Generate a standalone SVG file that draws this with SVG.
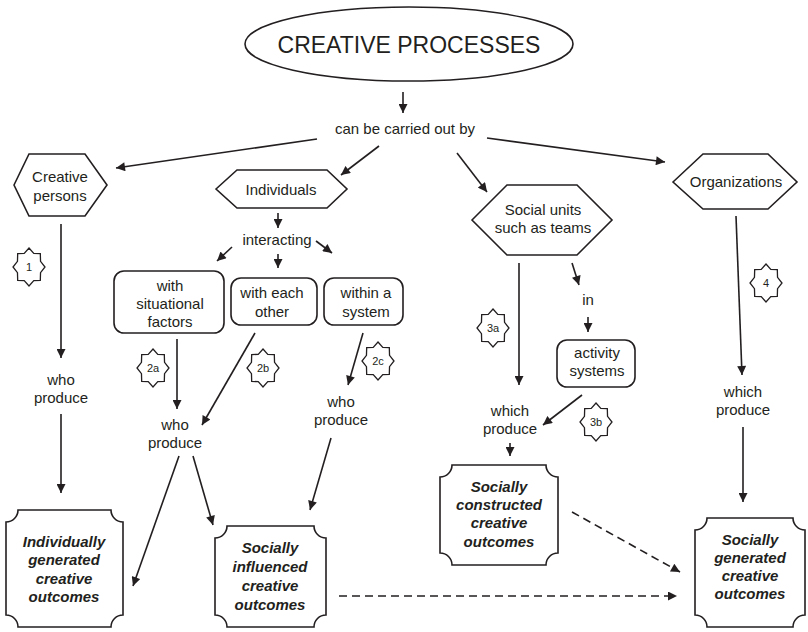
<svg xmlns="http://www.w3.org/2000/svg" xmlns:xlink="http://www.w3.org/1999/xlink" width="808" height="632" viewBox="0 0 808 632">
<style>
text{font-family:"Liberation Sans",Arial,sans-serif;fill:#231f20;text-anchor:middle}
.t{font-size:15px}
.o{font-size:15px;font-weight:bold;font-style:italic}
.s{font-size:11px}
.shape{fill:#fff;stroke:#231f20;stroke-width:1.6}
.star{fill:#fff;stroke:#231f20;stroke-width:1.3}
.c{fill:none;stroke:#231f20;stroke-width:1.6}
.d{fill:none;stroke:#231f20;stroke-width:1.6;stroke-dasharray:8 5}
</style>
<defs>
<marker id="ah" viewBox="0 0 10 10" refX="10" refY="5" markerWidth="11" markerHeight="9" markerUnits="userSpaceOnUse" orient="auto"><path d="M0,0 L10,5 L0,10 z" fill="#231f20"/></marker>
<path id="star" class="star" d="M0,-19 L4.78,-13.69 L11.31,-13.43 L11.53,-5.67 L16,0 L11.53,5.67 L11.31,13.43 L4.78,13.69 L0,19 L-4.78,13.69 L-11.31,13.43 L-11.53,5.67 L-16,0 L-11.53,-5.67 L-11.31,-13.43 L-4.78,-13.69 Z"/>
</defs>
<rect width="808" height="632" fill="#fff"/>

<g id="connectors">
<line class="c" x1="403" y1="92" x2="403" y2="113" marker-end="url(#ah)"/>
<line class="c" x1="317" y1="139" x2="116" y2="168" marker-end="url(#ah)"/>
<line class="c" x1="379" y1="146" x2="341" y2="175" marker-end="url(#ah)"/>
<line class="c" x1="457" y1="153" x2="487" y2="192" marker-end="url(#ah)"/>
<line class="c" x1="487" y1="138" x2="665" y2="162" marker-end="url(#ah)"/>
<line class="c" x1="61" y1="224" x2="61" y2="358" marker-end="url(#ah)"/>
<line class="c" x1="61" y1="414" x2="61" y2="493" marker-end="url(#ah)"/>
<line class="c" x1="278" y1="213" x2="278" y2="228" marker-end="url(#ah)"/>
<line class="c" x1="232" y1="247" x2="217" y2="261" marker-end="url(#ah)"/>
<line class="c" x1="278" y1="254" x2="278" y2="268" marker-end="url(#ah)"/>
<line class="c" x1="316" y1="241" x2="332" y2="253" marker-end="url(#ah)"/>
<line class="c" x1="177" y1="339" x2="177" y2="409" marker-end="url(#ah)"/>
<line class="c" x1="255" y1="333" x2="202" y2="425" marker-end="url(#ah)"/>
<line class="c" x1="363" y1="333" x2="348" y2="385" marker-end="url(#ah)"/>
<line class="c" x1="179" y1="456" x2="133" y2="586" marker-end="url(#ah)"/>
<line class="c" x1="193" y1="456" x2="213" y2="525" marker-end="url(#ah)"/>
<line class="c" x1="331" y1="438" x2="310" y2="510" marker-end="url(#ah)"/>
<line class="c" x1="519" y1="263" x2="519" y2="385" marker-end="url(#ah)"/>
<line class="c" x1="572" y1="263" x2="579" y2="285" marker-end="url(#ah)"/>
<line class="c" x1="588" y1="317" x2="588" y2="332" marker-end="url(#ah)"/>
<line class="c" x1="582" y1="395" x2="543" y2="425" marker-end="url(#ah)"/>
<line class="c" x1="510" y1="443" x2="510" y2="456" marker-end="url(#ah)"/>
<line class="c" x1="736" y1="216" x2="742" y2="375" marker-end="url(#ah)"/>
<line class="c" x1="743" y1="427" x2="743" y2="502" marker-end="url(#ah)"/>
<line class="d" x1="339" y1="596" x2="677" y2="596" marker-end="url(#ah)"/>
<line class="d" x1="572" y1="512" x2="680" y2="572" marker-end="url(#ah)"/>
</g>

<g id="creative-processes">
<ellipse class="shape" cx="409" cy="44" rx="164" ry="37"/>
<text x="409" y="53" style="font-size:23px">CREATIVE PROCESSES</text>
</g>
<g id="can-be-carried-out-by"><text class="t" x="405" y="134">can be carried out by</text></g>

<g id="creative-persons">
<polygon class="shape" points="14,185 29,154 85,154 107,185 85,216 29,216"/>
<text class="t" x="60" y="182">Creative</text>
<text class="t" x="60" y="201">persons</text>
</g>
<g id="individuals">
<polygon class="shape" points="216,189 237,170 327,170 347,189 327,208 237,208"/>
<text class="t" x="281" y="195">Individuals</text>
</g>
<g id="social-units">
<polygon class="shape" points="472,220 507,185 577,185 612,220 577,255 507,255"/>
<text class="t" x="543" y="215">Social units</text>
<text class="t" x="543" y="233">such as teams</text>
</g>
<g id="organizations">
<polygon class="shape" points="673,182 703,154 768,154 797,182 768,209 703,209"/>
<text class="t" x="736" y="187">Organizations</text>
</g>

<g id="interacting"><text class="t" x="277" y="245">interacting</text></g>
<g id="with-situational-factors">
<rect class="shape" x="114" y="271" width="110" height="62" rx="10"/>
<text class="t" x="170" y="291">with</text>
<text class="t" x="170" y="309">situational</text>
<text class="t" x="170" y="327">factors</text>
</g>
<g id="with-each-other">
<rect class="shape" x="231" y="278" width="86" height="47" rx="10"/>
<text class="t" x="272" y="298">with each</text>
<text class="t" x="272" y="317">other</text>
</g>
<g id="within-a-system">
<rect class="shape" x="324" y="278" width="79" height="47" rx="10"/>
<text class="t" x="366" y="298">within a</text>
<text class="t" x="366" y="317">system</text>
</g>
<g id="in"><text class="t" x="588" y="305">in</text></g>
<g id="activity-systems">
<rect class="shape" x="557" y="340" width="78" height="47" rx="10"/>
<text class="t" x="597" y="358">activity</text>
<text class="t" x="597" y="376">systems</text>
</g>

<g id="who-produce-1">
<text class="t" x="61" y="385">who</text>
<text class="t" x="61" y="403">produce</text>
</g>
<g id="who-produce-2">
<text class="t" x="175" y="430">who</text>
<text class="t" x="175" y="448">produce</text>
</g>
<g id="who-produce-3">
<text class="t" x="341" y="407">who</text>
<text class="t" x="341" y="425">produce</text>
</g>
<g id="which-produce-3">
<text class="t" x="510" y="416">which</text>
<text class="t" x="510" y="434">produce</text>
</g>
<g id="which-produce-4">
<text class="t" x="743" y="397">which</text>
<text class="t" x="743" y="415">produce</text>
</g>

<g id="star-1"><use xlink:href="#star" x="29" y="267"/><text class="s" x="29" y="271">1</text></g>
<g id="star-2a"><use xlink:href="#star" x="153" y="368"/><text class="s" x="153" y="372">2a</text></g>
<g id="star-2b"><use xlink:href="#star" x="263" y="368"/><text class="s" x="263" y="372">2b</text></g>
<g id="star-2c"><use xlink:href="#star" x="378" y="361"/><text class="s" x="378" y="365">2c</text></g>
<g id="star-3a"><use xlink:href="#star" x="493" y="328"/><text class="s" x="493" y="332">3a</text></g>
<g id="star-3b"><use xlink:href="#star" x="596" y="422"/><text class="s" x="596" y="426">3b</text></g>
<g id="star-4"><use xlink:href="#star" x="766" y="283"/><text class="s" x="766" y="287">4</text></g>

<g id="individually-generated">
<path class="shape" d="M18,510 H111 A12,12 0 0 0 123,522 V615 A12,12 0 0 0 111,627 H18 A12,12 0 0 0 6,615 V522 A12,12 0 0 0 18,510 Z"/>
<text class="o" x="64" y="547">Individually</text>
<text class="o" x="64" y="565">generated</text>
<text class="o" x="64" y="584">creative</text>
<text class="o" x="64" y="602">outcomes</text>
</g>
<g id="socially-influenced">
<path class="shape" d="M227,526 H314 A12,12 0 0 0 326,538 V615 A12,12 0 0 0 314,627 H227 A12,12 0 0 0 215,615 V538 A12,12 0 0 0 227,526 Z"/>
<text class="o" x="270" y="553">Socially</text>
<text class="o" x="270" y="572">influenced</text>
<text class="o" x="270" y="591">creative</text>
<text class="o" x="270" y="610">outcomes</text>
</g>
<g id="socially-constructed">
<path class="shape" d="M452,465 H546 A12,12 0 0 0 558,477 V553 A12,12 0 0 0 546,565 H452 A12,12 0 0 0 440,553 V477 A12,12 0 0 0 452,465 Z"/>
<text class="o" x="499" y="492">Socially</text>
<text class="o" x="499" y="510">constructed</text>
<text class="o" x="499" y="528">creative</text>
<text class="o" x="499" y="547">outcomes</text>
</g>
<g id="socially-generated">
<path class="shape" d="M707,518 H793 A12,12 0 0 0 805,530 V615 A12,12 0 0 0 793,627 H707 A12,12 0 0 0 695,615 V530 A12,12 0 0 0 707,518 Z"/>
<text class="o" x="750" y="545">Socially</text>
<text class="o" x="750" y="563">generated</text>
<text class="o" x="750" y="581">creative</text>
<text class="o" x="750" y="599">outcomes</text>
</g>
</svg>
